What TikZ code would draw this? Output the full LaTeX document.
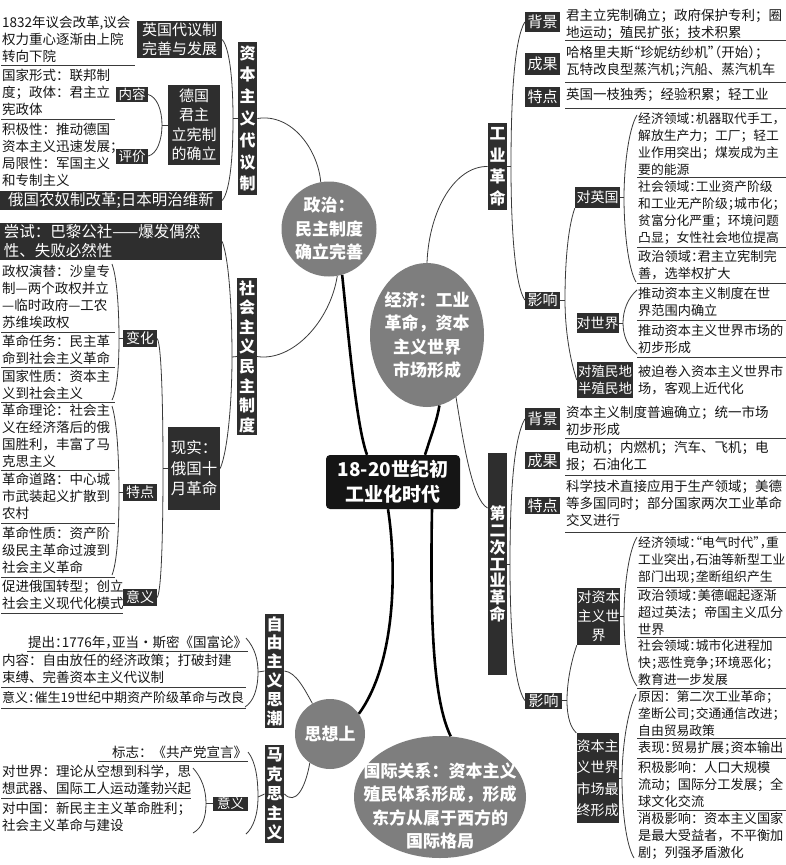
\documentclass[tikz,border=0pt]{standalone}
\usepackage{fontspec}
\setmainfont{Noto Sans CJK SC}
\usetikzlibrary{shapes.geometric}
\definecolor{dk}{HTML}{2E2E2E}
\definecolor{cg}{HTML}{7E7E7E}
\definecolor{ln}{HTML}{3A3A3A}
\definecolor{tk}{HTML}{151515}
\newcommand\hp[1]{\makebox[0.5em][l]{#1}}
\newcommand\hpr[1]{\makebox[0.5em][r]{#1}}
\newcommand\tblock[7][]{\node[tx,text width=\dimexpr #6pt-2pt\relax,minimum height={#5-#4},#1] (#2) at (#3,-#4) {#7};}
\newcommand\ulx[1]{\draw[uline] (#1.south west) -- (#1.south east);}
\begin{document}
\begin{tikzpicture}[x=1pt,y=1pt,
 tx/.style={anchor=north west, align=left, inner xsep=1pt, inner ysep=0pt, text=tk, font=\fontsize{13.5}{17}\selectfont},
 sub/.style={font=\fontsize{13.2}{17}\selectfont},
 subn/.style={font=\fontsize{12.8}{17}\selectfont},
 lab/.style={fill=dk, text=white, inner sep=0pt, align=center, font=\fontsize{14.5}{19}\selectfont},
 vlab/.style={fill=dk, text=white, inner sep=0pt, align=center, minimum width=19.5},
 bub/.style={fill=cg, draw=none, inner sep=0pt},
 bubtxt/.style={text=white, align=center, inner sep=0pt, font=\bfseries\fontsize{17}{23.5}\selectfont},
 uline/.style={draw=ln, line width=0.7pt},
 thin/.style={draw=ln, line width=0.8pt},
 thick/.style={draw=black, line width=2.6pt},
]
\useasboundingbox[fill=white] (0,0) rectangle (786,-865);

% ---------------- central node and bubbles
\node[fill=tk, rounded corners=4pt, text=white, align=center, inner sep=0pt,
  minimum width=134, minimum height=54, font=\bfseries\fontsize{19}{25}\selectfont] (ctr) at (393,-482) {18-20世纪初\\工业化时代};

\node[bub, circle, minimum size=95] (c_pol) at (329,-229) {};
\node[bubtxt] (c_pol_t) at (c_pol) {政治：\\民主制度\\确立完善};
\node[bub, ellipse, minimum width=114, minimum height=144] (e_jj) at (427,-335) {};
\node[bubtxt] (e_jj_t) at (e_jj) {经济：工业\\革命，资本\\主义世界\\市场形成};
\node[bub, circle, minimum size=70] (c_sx) at (330,-734) {};
\node[bubtxt] (c_sx_t) at (c_sx) {思想上};
\node[bub, ellipse, minimum width=172, minimum height=122] (e_gj) at (440,-797) {};
\node[bubtxt] (e_gj_t) at (440,-806) {国际关系：资本主义\\殖民体系形成，形成\\东方从属于西方的\\国际格局};

% thick connectors
\draw[thick] ([xshift=-26pt]ctr.north) .. controls (356,-425) and (348,-330) .. (c_pol.-74);
\draw[thick] ([xshift=32pt]ctr.north) .. controls (433,-430) and (437,-420) .. (e_jj.-80);
\draw[thick] ([xshift=-5pt]ctr.south) .. controls (396,-560) and (398,-660) .. (c_sx.35);
\draw[thick] ([xshift=39pt]ctr.south) .. controls (430,-620) and (433,-700) .. (e_gj.80);

% ---------------- top left: 资本主义代议制
\tblock{t1}{1}{13}{65}{134}{1832年议会改革,议会\\权力重心逐渐由上院\\转向下院}\ulx{t1}
\node[lab, minimum width=85, minimum height=37, font=\fontsize{15}{19}\selectfont] (b_uk) at (179.5,-39.5) {英国代议制\\完善与发展};
\tblock{t2}{1}{66}{119}{114}{国家形式：联邦制\\度；政体：君主立\\宪政体}\ulx{t2}
\tblock{t3}{1}{120}{190}{114}{积极性：推动德国\\资本主义迅速发展\hp{；}\\局限性：军国主义\\和专制主义}
\node[lab, minimum width=32, minimum height=15, font=\fontsize{13.5}{17}\selectfont] (b_nr) at (132,-94.5) {内容};
\node[lab, minimum width=32, minimum height=15, font=\fontsize{13.5}{17}\selectfont] (b_pj) at (132,-156) {评价};
\node[lab, minimum width=52, minimum height=80, font=\fontsize{15}{19.5}\selectfont] (b_de) at (194,-125) {德国\\君主\\立宪制\\的确立};
\node[lab, minimum width=222, minimum height=19, font=\fontsize{15.5}{19}\selectfont] (b_ru) at (111,-200.5) {俄国农奴制改革;日本明治维新};
\node[vlab, minimum height=153, font=\bfseries\fontsize{16}{21.8}\selectfont] (v_zb) at (247.5,-118.5) {资\\本\\主\\义\\代\\议\\制};

\coordinate (zbm) at (233,-118.5);
\draw[thin] (b_uk.east) .. controls (231,-50) and (233,-90) .. (zbm) .. controls (233,-150) and (231,-190) .. (b_ru.east);
\draw[thin] (zbm) -- (v_zb.west);
\coordinate (dem) at (162,-125);
\draw[thin] (b_nr.east) .. controls (157,-97) and (162,-110) .. (dem) .. controls (162,-140) and (157,-154) .. (b_pj.east);
\draw[thin] (dem) -- (b_de.west);
\draw[thin] (v_zb.east) .. controls (292,-113) and (318,-150) .. (c_pol.100);

% ---------------- 社会主义民主制度
\node[lab, minimum width=222, minimum height=37, text width=214, align=left, font=\fontsize{15.5}{19}\selectfont] (b_ts) at (111,-241.5) {尝试：巴黎公社——爆发偶然\\性、失败必然性};
\tblock{t4}{1}{261}{332}{114}{政权演替：沙皇专\\制—两个政权并立\\—临时政府—工农\\苏维埃政权}\ulx{t4}
\tblock{t5}{1}{332}{367}{114}{革命任务：民主革\\命到社会主义革命}\ulx{t5}
\tblock{t6}{1}{367}{402}{114}{国家性质：资本主\\义到社会主义}\ulx{t6}
\tblock{t7}{1}{402}{470}{114}{革命理论：社会主\\义在经济落后的俄\\国胜利，丰富了马\\克思主义}\ulx{t7}
\tblock{t8}{1}{470}{523}{114}{革命道路：中心城\\市武装起义扩散到\\农村}\ulx{t8}
\tblock{t9}{1}{523}{577}{114}{革命性质：资产阶\\级民主革命过渡到\\社会主义革命}\ulx{t9}
\tblock{t10}{1}{577}{613}{122}{促进俄国转型；创立\\社会主义现代化模式}\ulx{t10}
\node[lab, minimum width=34, minimum height=17, font=\fontsize{14}{17}\selectfont] (b_bh) at (140,-338.5) {变化};
\node[lab, minimum width=34, minimum height=17, font=\fontsize{14}{17}\selectfont] (b_td) at (140,-492.5) {特点};
\node[lab, minimum width=34, minimum height=17, font=\fontsize{14}{17}\selectfont] (b_yy) at (140,-597.5) {意义};
\node[lab, minimum width=52, minimum height=83, font=\fontsize{15.5}{20.5}\selectfont] (b_xs) at (194,-468.5) {现实：\\俄国十\\月革命};
\node[vlab, minimum height=157, font=\bfseries\fontsize{16}{19.6}\selectfont] (v_sh) at (247,-356.5) {社\\会\\主\\义\\民\\主\\制\\度};

\coordinate (bh1) at (112,-264); \coordinate (bh2) at (112,-400); \coordinate (bhm) at (119,-338.5);
\draw[thin] (bh1) .. controls (118,-280) and (119,-320) .. (bhm) .. controls (119,-360) and (118,-388) .. (bh2);
\draw[thin] (bhm) -- (b_bh.west);
\coordinate (tp1) at (112,-406); \coordinate (tp2) at (112,-575); \coordinate (tpm) at (119,-492.5);
\draw[thin] (tp1) .. controls (118,-425) and (119,-470) .. (tpm) .. controls (119,-520) and (118,-560) .. (tp2);
\draw[thin] (tpm) -- (b_td.west);
\coordinate (xsm) at (163,-468.5);
\draw[thin] (b_bh.east) .. controls (162,-345) and (163,-420) .. (xsm) .. controls (163,-520) and (162,-590) .. (b_yy.east);
\draw[thin] (xsm) -- (b_xs.west);
\coordinate (shm) at (232,-357);
\draw[thin] (b_ts.east) .. controls (230,-262) and (232,-320) .. (shm) .. controls (232,-400) and (228,-450) .. (b_xs.east);
\draw[thin] (shm) -- (v_sh.west);
\draw[thin] (c_pol.-80) .. controls (330,-322) and (292,-362) .. (v_sh.east);

% ---------------- 思想上
\tblock[align=right]{t11}{27}{633}{651}{221}{提出\hp{：}1776年\hp{，}亚当·斯密《国富论》}\ulx{t11}
\tblock{t12}{1}{651}{687}{245}{内容：自由放任的经济政策；打破封建\\束缚、完善资本主义代议制}\ulx{t12}
\tblock[font=\fontsize{13}{17}\selectfont]{t13}{1}{687}{708}{245}{意义\hp{：}催生19世纪中期资产阶级革命与改良}\ulx{t13}
\node[vlab, minimum height=114, font=\bfseries\fontsize{16}{18.8}\selectfont] (v_zy) at (274.5,-671) {自\\由\\主\\义\\思\\潮};
\coordinate (zy1) at (246,-638); \coordinate (zy2) at (245,-707); \coordinate (zym) at (258,-672);
\draw[thin] (zy1) .. controls (255,-648) and (258,-660) .. (zym) .. controls (258,-690) and (253,-702) .. (zy2);
\draw[thin] (zym) -- (v_zy.west);

\tblock[align=right]{t14}{98}{744}{761}{150}{标志：《共产党宣言》}\ulx{t14}
\tblock{t15}{1}{762}{798}{190}{对世界：理论从空想到科学，思\\想武器、国际工人运动蓬勃兴起}\ulx{t15}
\tblock{t16}{1}{798}{835}{190}{对中国：新民主主义革命胜利；\\社会主义革命与建设}
\node[lab, minimum width=35, minimum height=14, font=\fontsize{13.5}{16}\selectfont] (b_yy2) at (230.5,-803.5) {意义};
\coordinate (y21) at (193,-768); \coordinate (y22) at (193,-833); \coordinate (y2m) at (206,-803.5);
\draw[thin] (y21) .. controls (202,-778) and (206,-790) .. (y2m) .. controls (206,-818) and (202,-828) .. (y22);
\draw[thin] (y2m) -- (b_yy2.west);
\node[vlab, minimum height=98, font=\bfseries\fontsize{16}{19.6}\selectfont] (v_mk) at (274.5,-794) {马\\克\\思\\主\\义};
\coordinate (mk1) at (248,-752); \coordinate (mk2) at (246,-834); \coordinate (mkm) at (258,-797);
\draw[thin] (mk1) .. controls (256,-762) and (258,-780) .. (mkm) .. controls (258,-815) and (253,-828) .. (mk2);
\draw[thin] (mkm) -- (v_mk.west);

\draw[thin] (v_zy.east) .. controls (296,-672) and (305,-690) .. (c_sx.120);
\draw[thin] (c_sx.235) .. controls (305,-790) and (295,-805) .. (v_mk.east);

% ---------------- 工业革命
\node[vlab, minimum height=87, font=\bfseries\fontsize{16}{21.5}\selectfont] (v_gy) at (497.5,-166.5) {工\\业\\革\\命};
\draw[thin] (e_jj.north) .. controls (429,-210) and (455,-166) .. (v_gy.west);
\node[lab, minimum width=35, minimum height=20, font=\fontsize{15}{18}\selectfont] (b_bj1) at (542.5,-22) {背景};
\node[lab, minimum width=35, minimum height=22, font=\fontsize{15}{18}\selectfont] (b_cg1) at (542.5,-64) {成果};
\node[lab, minimum width=35, minimum height=20, font=\fontsize{15}{18}\selectfont] (b_td1) at (542.5,-97) {特点};
\tblock{t_bj1}{565}{8}{40}{222}{君主立宪制确立；政府保护专利；圈\\地运动；殖民扩张；技术积累}\ulx{t_bj1}
\tblock{t_cg1}{565}{41}{82}{222}{哈格里夫斯\hpr{“}珍妮纺纱机\hp{”}\hpr{（}开始\hp{）}\hp{；}\\瓦特改良型蒸汽机\hp{；}汽船、蒸汽机车}\ulx{t_cg1}
\tblock{t_td1}{565}{82}{108}{222}{英国一枝独秀；经验积累；轻工业}\ulx{t_td1}
\tblock[subn]{t_jj1}{637}{110}{177}{149}{经济领域\hp{：}机器取代手工\hp{，}\\解放生产力；工厂；轻工\\业作用突出；煤炭成为主\\要的能源}\ulx{t_jj1}
\tblock[subn]{t_sh1}{637}{177}{247}{149}{社会领域\hp{：}工业资产阶级\\和工业无产阶级\hp{；}城市化\hp{；}\\贫富分化严重；环境问题\\凸显；女性社会地位提高}\ulx{t_sh1}
\tblock[sub]{t_zz1}{637}{247}{283}{149}{政治领域\hp{：}君主立宪制完\\善，选举权扩大}\ulx{t_zz1}
\tblock[sub]{t_sj1}{637}{283}{320}{149}{推动资本主义制度在世\\界范围内确立}\ulx{t_sj1}
\tblock[sub]{t_sj2}{637}{320}{357}{149}{推动资本主义世界市场的\\初步形成}\ulx{t_sj2}
\tblock[sub]{t_zm}{637}{359}{400}{149}{被迫卷入资本主义世界市\\场，客观上近代化}
\node[lab, minimum width=35, minimum height=17, font=\fontsize{15}{18}\selectfont] (b_yx1) at (542.5,-300) {影响};
\node[lab, minimum width=45, minimum height=21, font=\fontsize{14}{18}\selectfont] (b_dyg) at (597.5,-197.5) {对英国};
\node[lab, minimum width=42, minimum height=20, font=\fontsize{14}{18}\selectfont] (b_dsj) at (597.5,-323) {对世界};
\node[lab, minimum width=56, minimum height=36, font=\fontsize{13.5}{17.5}\selectfont] (b_dzm) at (605,-380) {对殖民地\\半殖民地};

\coordinate (gym) at (511,-166.5);
\draw[thin] (b_bj1.west) .. controls (514,-40) and (511,-100) .. (gym) .. controls (511,-230) and (515,-285) .. (b_yx1.west);
\draw[thin] (v_gy.east) -- (gym);
\coordinate (yx1m) at (565,-300);
\draw[thin] (b_dyg.south west) .. controls (567,-230) and (565,-270) .. (yx1m) .. controls (565,-330) and (570,-360) .. (b_dzm.west);
\draw[thin] (b_yx1.east) -- (yx1m);
\coordinate (dy1) at (637,-115); \coordinate (dy2) at (636,-282); \coordinate (dym) at (624,-197.5);
\draw[thin] (dy1) .. controls (628,-130) and (624,-170) .. (dym) .. controls (624,-230) and (628,-268) .. (dy2);
\draw[thin] (dym) -- (b_dyg.east);
\coordinate (ds1) at (637,-290); \coordinate (ds2) at (637,-354); \coordinate (dsm) at (623,-323);
\draw[thin] (ds1) .. controls (628,-298) and (623,-310) .. (dsm) .. controls (623,-336) and (628,-347) .. (ds2);
\draw[thin] (dsm) -- (b_dsj.east);

% ---------------- 第二次工业革命
\node[vlab, minimum height=222, font=\bfseries\fontsize{16}{16.8}\selectfont] (v_dr) at (497.5,-564) {第\\二\\次\\工\\业\\革\\命};
\draw[thin] (e_jj.-65) .. controls (463,-440) and (472,-500) .. ([yshift=56pt]v_dr.west);
\node[lab, minimum width=35, minimum height=22, font=\fontsize{15}{18}\selectfont] (b_bj2) at (542.5,-419) {背景};
\node[lab, minimum width=35, minimum height=17, font=\fontsize{15}{18}\selectfont] (b_cg2) at (542.5,-460.5) {成果};
\node[lab, minimum width=35, minimum height=17, font=\fontsize{15}{18}\selectfont] (b_td2) at (542.5,-505.5) {特点};
\tblock{t_bj2}{565}{404}{438}{222}{资本主义制度普遍确立；统一市场\\初步形成}\ulx{t_bj2}
\tblock{t_cg2}{565}{438}{475}{222}{电动机；内燃机；汽车、飞机；电\\报；石油化工}\ulx{t_cg2}
\tblock{t_td2}{565}{475}{532}{222}{科学技术直接应用于生产领域；美德\\等多国同时；部分国家两次工业革命\\交叉进行}\ulx{t_td2}
\tblock[subn]{t_jj2}{637}{532}{587}{149}{经济领域\hp{：}\hpr{“}电气时代\hp{”}\hp{，}重\\工业突出\hp{，}石油等新型工业\\部门出现\hp{；}垄断组织产生}\ulx{t_jj2}
\tblock[sub]{t_zz2}{637}{587}{637}{149}{政治领域\hp{：}美德崛起逐渐\\超过英法；帝国主义瓜分\\世界}\ulx{t_zz2}
\tblock[subn]{t_sh2}{637}{637}{688}{149}{社会领域\hp{：}城市化进程加\\快\hp{；}恶性竞争\hp{；}环境恶化\hp{；}\\教育进一步发展}\ulx{t_sh2}
\tblock[subn]{t_yy3}{637}{688}{738}{149}{原因：第二次工业革命\hp{；}\\垄断公司\hp{；}交通通信改进\hp{；}\\自由贸易政策}\ulx{t_yy3}
\tblock[sub]{t_bx}{637}{738}{758}{149}{表现\hp{：}贸易扩展\hp{；}资本输出}\ulx{t_bx}
\tblock[sub]{t_jjyx}{637}{758}{810}{149}{积极影响：人口大规模\\流动；国际分工发展；全\\球文化交流}\ulx{t_jjyx}
\tblock[sub]{t_xjyx}{637}{810}{862}{149}{消极影响：资本主义国家\\是最大受益者，不平衡加\\剧；列强矛盾激化}
\node[lab, minimum width=43, minimum height=57, font=\fontsize{14}{19}\selectfont] (b_dzb) at (598.5,-616.5) {对资本\\主义世\\界};
\node[lab, minimum width=37, minimum height=16, font=\fontsize{15}{18}\selectfont] (b_yx2) at (543.5,-700.5) {影响};
\node[lab, minimum width=41, minimum height=90, font=\fontsize{14}{21.5}\selectfont] (b_zsc) at (597.5,-778) {资本主\\义世界\\市场最\\终形成};

\coordinate (drm) at (510,-564);
\draw[thin] (b_bj2.west) .. controls (513,-440) and (510,-500) .. (drm) .. controls (510,-630) and (514,-685) .. (b_yx2.west);
\draw[thin] (v_dr.east) -- (drm);
\coordinate (yx2m) at (567,-700.5);
\draw[thin] (b_dzb.south west) .. controls (570,-665) and (567,-685) .. (yx2m) .. controls (567,-718) and (571,-728) .. (b_zsc.north west);
\draw[thin] (b_yx2.east) -- (yx2m);
\coordinate (dz1) at (637,-537); \coordinate (dz2) at (637,-686); \coordinate (dzm) at (624,-616.5);
\draw[thin] (dz1) .. controls (628,-552) and (624,-590) .. (dzm) .. controls (624,-645) and (628,-675) .. (dz2);
\draw[thin] (dzm) -- (b_dzb.east);
\coordinate (zs1) at (636,-694); \coordinate (zs2) at (634,-858); \coordinate (zsm) at (622,-778);
\draw[thin] (zs1) .. controls (627,-712) and (622,-750) .. (zsm) .. controls (622,-810) and (626,-845) .. (zs2);
\draw[thin] (zsm) -- (b_zsc.east);
\end{tikzpicture}
\end{document}
